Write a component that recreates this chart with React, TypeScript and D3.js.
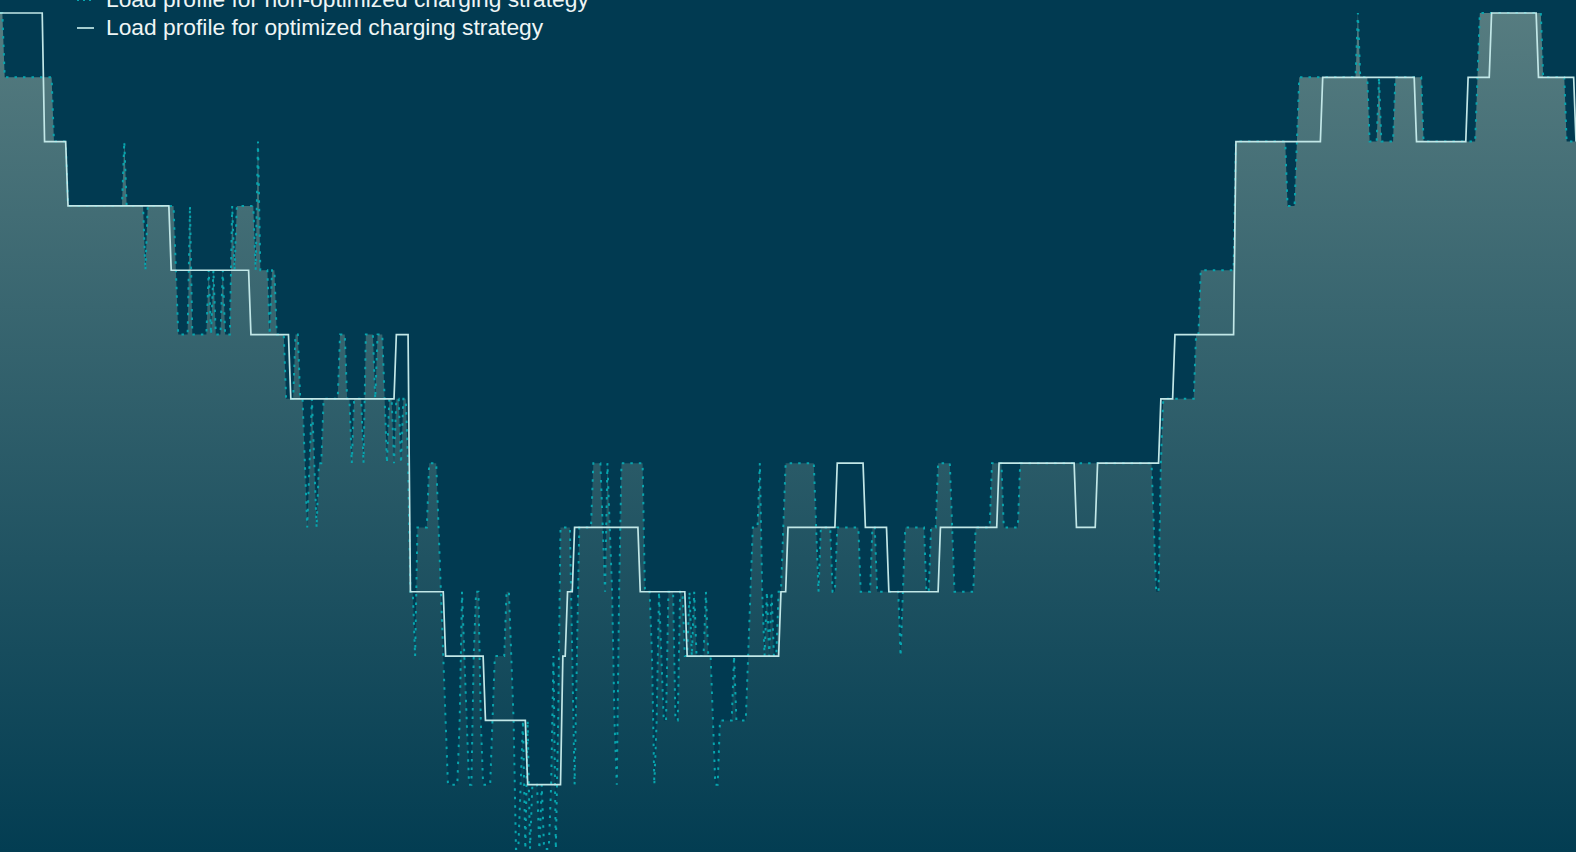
import React from "react";
import * as d3 from "d3";

const WIDTH = 1576;
const HEIGHT = 852;

// one week in 15-minute slots
const slotCount = 672;
const maxLoad = 13;

const legendLabels = [
  "Load profile for non-optimized charging strategy",
  "Load profile for optimized charging strategy",
];

// slot where each load level starts (optimized strategy)
const optimizedStart = [
  0, 19, 29, 73, 107, 124, 169, 175, 190, 207, 225, 240, 242, 245, 273, 293,
  333, 336, 357, 369, 379, 401, 426, 459, 468, 495, 501, 527, 564, 604, 626,
  636, 656, 672,
];
const optimizedLoad = [
  13, 11, 10, 9, 8, 7, 8, 4, 3, 2, 1, 3, 4, 5, 4, 3, 4, 5, 6, 5, 4, 5, 6, 5,
  6, 7, 8, 11, 12, 11, 12, 13, 12, 11,
];

// slot where each load level starts (non-optimized strategy)
const plainStart = [
  0, 2, 23, 29, 53, 54, 62, 63, 75, 76, 81, 82, 89, 90, 91, 92, 95, 96, 99,
  100, 101, 109, 110, 111, 115, 116, 118, 122, 126, 128, 130, 131, 132, 133,
  134, 135, 136, 138, 145, 148, 150, 151, 155, 156, 160, 161, 164, 165, 166,
  168, 169, 171, 172, 174, 175, 177, 178, 183, 187, 188, 189, 190, 191, 196,
  197, 198, 199, 200, 202, 203, 205, 206, 210, 211, 216, 218, 219, 220, 222,
  223, 224, 225, 226, 227, 230, 231, 232, 235, 236, 237, 238, 239, 244, 245,
  246, 247, 253, 257, 258, 259, 260, 261, 262, 263, 264, 265, 275, 278, 279,
  280, 281, 282, 283, 285, 288, 290, 292, 294, 295, 296, 297, 301, 302, 304,
  305, 307, 313, 314, 319, 320, 321, 324, 325, 326, 327, 328, 329, 330, 332,
  334, 335, 348, 349, 350, 355, 357, 367, 372, 374, 384, 385, 386, 395, 397,
  400, 406, 407, 416, 423, 428, 435, 492, 493, 495, 496, 510, 512, 527, 549,
  553, 554, 579, 580, 584, 588, 589, 595, 607, 630, 631, 658, 668,
];
const plainLoad = [
  13, 12, 11, 10, 11, 10, 9, 10, 9, 8, 10, 8, 9, 8, 9, 8, 9, 8, 10,
  9, 10, 9, 11, 9, 8, 9, 8, 7, 8, 7, 6, 5, 6, 7,
  6, 5, 6, 7, 8, 7, 6, 7, 6, 8, 7, 8, 7, 6, 7,
  6, 7, 6, 7, 6, 4, 3, 5, 6, 5, 4, 3, 2, 1, 2,
  4, 3, 2, 1, 3, 4, 2, 1, 2, 3, 4, 3, 2, 0, 1,
  2, 0, 2, 0, 1, 0, 1, 0, 1, 3, 0, 2, 5, 3, 1,
  3, 5, 6, 5, 4, 6, 5, 4, 2, 1, 4, 6, 4, 3, 1,
  2, 4, 3, 2, 4, 2, 4, 3, 4, 3, 4, 3, 4, 3, 2,
  1, 2, 3, 2, 3, 4, 5, 6, 4, 3, 4, 3, 4, 3, 4,
  5, 6, 5, 4, 5, 4, 5, 4, 5, 4, 3, 4, 5, 4, 5,
  6, 5, 4, 5, 6, 5, 6, 5, 4, 6, 7, 8, 9, 11, 10,
  11, 12, 13, 12, 11, 12, 11, 12, 11, 12, 13, 12, 11,
];

type Point = { slot: number; load: number };

function expand(starts: number[], loads: number[]): Point[] {
  const out: Point[] = [];
  let j = 0;
  for (let i = 0; i <= slotCount; i++) {
    while (j + 1 < starts.length && starts[j + 1] <= i) j++;
    out.push({ slot: i, load: loads[j] });
  }
  return out;
}

const optimized = expand(optimizedStart, optimizedLoad);
const plain = expand(plainStart, plainLoad);

export default function App() {
  const x = d3.scaleLinear().domain([0, slotCount]).range([0, WIDTH]);
  const y = d3.scaleLinear().domain([0, maxLoad]).range([849, 13]);

  const line = d3
    .line<Point>()
    .x((d) => x(d.slot))
    .y((d) => y(d.load));
  const area = d3
    .area<Point>()
    .x((d) => x(d.slot))
    .y0(HEIGHT)
    .y1((d) => y(d.load));

  const font = "'Liberation Sans', Arial, Helvetica, sans-serif";

  return (
    <svg
      width={WIDTH}
      height={HEIGHT}
      style={{ position: "absolute", left: 0, top: 0, display: "block" }}
    >
      <defs>
        <linearGradient id="fillGrad" gradientUnits="userSpaceOnUse" x1={0} y1={13} x2={0} y2={HEIGHT}>
          <stop offset="0%" stopColor="#567c80" />
          <stop offset="100%" stopColor="#033d52" />
        </linearGradient>
      </defs>
      <rect width={WIDTH} height={HEIGHT} fill="#013a51" />
      <path d={area(plain) ?? ""} fill="url(#fillGrad)" />
      <path
        d={line(plain) ?? ""}
        fill="none"
        stroke="#07a5ae"
        strokeWidth={2}
        strokeDasharray="2.5 6"
      />
      <path d={line(optimized) ?? ""} fill="none" stroke="#c2e7e7" strokeWidth={1.7} />

      <g fontFamily={font} fontSize={22.8} fill="#eef5f5">
        <line x1={77} x2={94} y1={0} y2={0} stroke="#07a5ae" strokeWidth={2} strokeDasharray="2 4" />
        <text x={106} y={6.5}>{legendLabels[0]}</text>
        <line x1={77} x2={94} y1={28} y2={28} stroke="#c2e7e7" strokeWidth={1.7} />
        <text x={106} y={35}>{legendLabels[1]}</text>
      </g>
    </svg>
  );
}
